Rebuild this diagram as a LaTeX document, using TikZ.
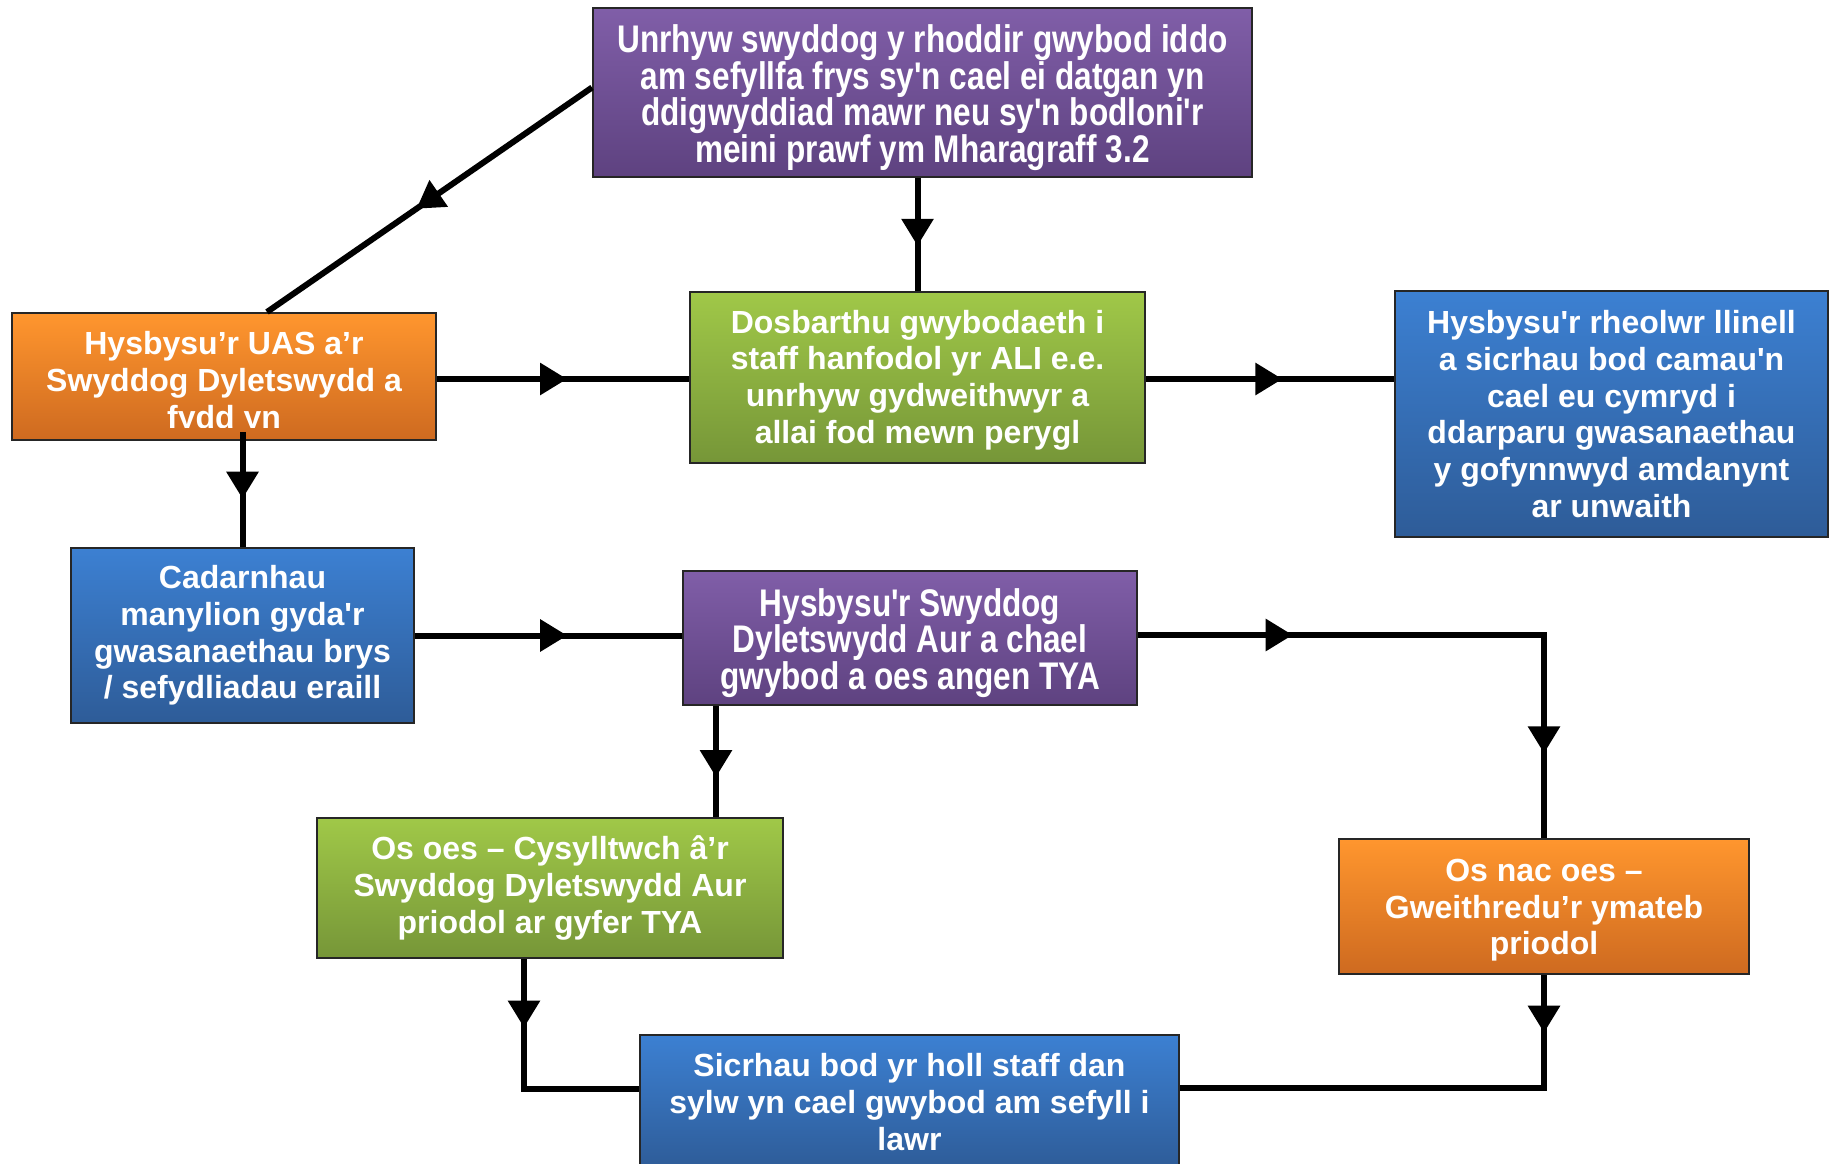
\documentclass[tikz,border=0pt]{standalone}
\usepackage{fontspec}
\setmainfont{Liberation Sans}[Ligatures=TeXOff]
\newfontfamily\narrowfont{Liberation Sans}[Ligatures=TeXOff,FakeStretch=0.82]
\usetikzlibrary{arrows.meta,decorations.markings}
\definecolor{purT}{RGB}{128,94,168}
\definecolor{purB}{RGB}{94,66,128}
\definecolor{oraT}{RGB}{255,150,46}
\definecolor{oraB}{RGB}{206,106,32}
\definecolor{greT}{RGB}{160,200,72}
\definecolor{greB}{RGB}{118,150,56}
\definecolor{bluT}{RGB}{60,128,210}
\definecolor{bluB}{RGB}{46,92,152}
\tikzset{
  box/.style={rectangle, draw=black!85, line width=2pt, inner sep=0pt, text=white, align=center,
    font=\bfseries\fontsize{32}{36.8}\selectfont},
  narrowtxt/.style={font=\narrowfont\bfseries\fontsize{38.5}{36.8}\selectfont},
  purplebox/.style={box, top color=purT, bottom color=purB, narrowtxt},
  orangebox/.style={box, top color=oraT, bottom color=oraB},
  greenbox/.style={box, top color=greT, bottom color=greB},
  bluebox/.style={box, top color=bluT, bottom color=bluB},
  conn/.style={line width=6pt, black},
  arr/.style={postaction={decorate, decoration={markings,
    mark=at position #1 with {\arrow{Triangle[length=27pt,width=31pt]}}}}}
}
\begin{document}
\begin{tikzpicture}[x=1pt,y=1pt]
\useasboundingbox (0,0) rectangle (1834,-1163);
\fill[white] (0,0) rectangle (1834,-1163);

\node[purplebox, minimum width=659pt, minimum height=169pt, text height=148.4pt] (top) at (922.5,-92.5)
  {Unrhyw swyddog y rhoddir gwybod iddo\\am sefyllfa frys sy'n cael ei datgan yn\\ddigwyddiad mawr neu sy'n bodloni'r\\meini prawf ym Mharagraff 3.2};

\node[orangebox, minimum width=424pt, minimum height=127pt] (orangeA) at (224,-376.5) {};
\begin{scope}
  \clip (14,-315) rectangle (434,-427);
  \node[box, draw=none] (orangeTxt) at (224,-383.5) {Hysbysu’r UAS a’r\\Swyddog Dyletswydd a\\fydd yn};
\end{scope}

\node[greenbox, minimum width=455pt, minimum height=171pt, text height=138.7pt] (dist) at (917.5,-377.5)
  {Dosbarthu gwybodaeth i\\staff hanfodol yr ALI e.e.\\unrhyw gydweithwyr a\\allai fod mewn perygl};

\node[bluebox, minimum width=433pt, minimum height=246pt] (rblue) at (1611.5,-414)
  {Hysbysu'r rheolwr llinell\\a sicrhau bod camau'n\\cael eu cymryd i\\ddarparu gwasanaethau\\y gofynnwyd amdanynt\\ar unwaith};

\node[bluebox, minimum width=343pt, minimum height=175pt] (cad) at (242.5,-635.5)
  {Cadarnhau\\manylion gyda'r\\gwasanaethau brys\\/ sefydliadau eraill};

\node[purplebox, minimum width=454pt, minimum height=134pt, text height=111.6pt] (pmid) at (910,-638)
  {Hysbysu'r Swyddog\\Dyletswydd Aur a chael\\gwybod a oes angen TYA};

\node[greenbox, minimum width=466pt, minimum height=140pt] (osoes) at (550,-888)
  {Os oes – Cysylltwch â’r\\Swyddog Dyletswydd Aur\\priodol ar gyfer TYA};

\node[orangebox, minimum width=410pt, minimum height=135pt, text height=103.3pt] (osnac) at (1544,-906.5)
  {Os nac oes –\\Gweithredu’r ymateb\\priodol};

\node[bluebox, minimum width=539pt, minimum height=134pt] (bottom) at (909.5,-1102)
  {Sicrhau bod yr holl staff dan\\sylw yn cael gwybod am sefyll i\\lawr};

% connectors
\draw[conn, arr=0.54] ([yshift=5pt]top.west) -- ([xshift=43pt]orangeA.north);
\draw[conn, arr=0.6] (top.south -| dist.north) -- (dist.north);
\draw[conn, arr=0.516] ([yshift=-1.5pt]orangeA.east |- dist.west) -- ([yshift=-1.5pt]dist.west);
\draw[conn, arr=0.55] ([yshift=-1.5pt]dist.east) -- ([yshift=-1.5pt]dist.east -| rblue.west);
\draw[conn, arr=0.58] ([yshift=9pt]orangeA.south -| cad.north) -- (cad.north);
\draw[conn, arr=0.57] (cad.east) -- (cad.east -| pmid.west);
\draw[conn, arr=0.254, arr=0.861] ([yshift=3pt]pmid.east) -| (osnac.north);
\draw[conn, arr=0.64] ([xshift=-194pt]pmid.south) -- ([xshift=-194pt]pmid.south |- osoes.north);
\draw[conn, arr=0.28] ([xshift=-26pt]osoes.south) |- ([yshift=13pt]bottom.west);
\draw[conn, arr=0.121] (osnac.south) |- ([yshift=14pt]bottom.east);
\end{tikzpicture}
\end{document}
